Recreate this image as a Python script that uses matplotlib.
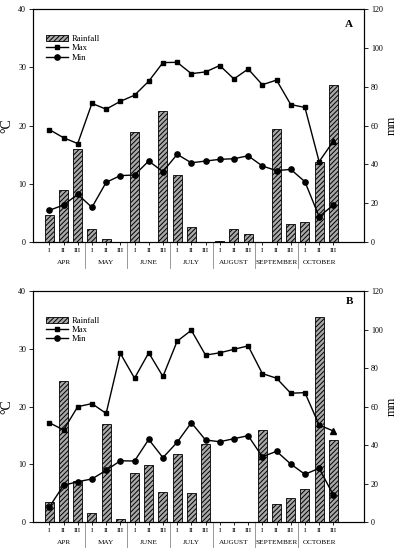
import matplotlib
matplotlib.use("Agg")
import matplotlib.pyplot as plt
import matplotlib.transforms as mtransforms
from matplotlib.patches import Patch
from matplotlib.lines import Line2D
import numpy as np

plt.rcParams['font.family'] = ['Liberation Serif', 'DejaVu Serif']
plt.rcParams['hatch.linewidth'] = 0.7

months = ["APR", "MAY", "JUNE", "JULY", "AUGUST", "SEPTEMBER", "OCTOBER"]
decades = ["I", "II", "III"]

rain_A = [13.7, 26.6, 47.9, 6.7, 1.4, 0, 56.8, 0, 67.6, 34.4, 7.9, 0,
          0.3, 6.9, 4.0, 0, 58.2, 9.3, 10.3, 41.2, 80.7]
max_A = [19.3, 17.9, 16.9, 23.8, 22.8, 24.15, 25.2, 27.6, 30.8, 30.85, 28.9, 29.2,
         30.3, 28.0, 29.7, 27.0, 27.8, 23.6, 23.1, 13.8, 17.3]
min_A = [5.44, 6.35, 8.18, 5.95, 10.24, 11.4, 11.5, 13.9, 12.07, 15.05, 13.6, 13.9,
         14.19, 14.3, 14.8, 13.05, 12.25, 12.47, 10.35, 4.35, 6.35]

rain_B = [10.2, 73.4, 21.3, 4.5, 50.8, 1.6, 25.3, 29.4, 15.4, 35.5, 14.9, 40.5,
          0, 0, 0, 47.6, 9.2, 12.3, 17.0, 106.5, 42.4]
max_B = [17.2, 15.93, 19.97, 20.5, 18.8, 29.2, 24.9, 29.3, 25.2, 31.3, 33.2, 28.9,
         29.3, 29.9, 30.5, 25.7, 24.9, 22.3, 22.4, 16.8, 15.76]
min_B = [2.6, 6.35, 6.98, 7.45, 8.95, 10.6, 10.56, 14.3, 11.14, 13.8, 17.2, 14.2,
         13.9, 14.43, 14.95, 11.3, 12.24, 10.04, 8.26, 9.3, 4.68]

panels = [("A", rain_A, max_A, min_A), ("B", rain_B, max_B, min_B)]

fig = plt.figure(figsize=(3.99, 5.50), dpi=100)
rects = [[0.0827, 0.560, 0.8296, 0.4236], [0.0827, 0.0509, 0.8296, 0.4200]]

x = np.arange(len(months) * len(decades))
xlabels = decades * len(months)
fs = 5.8

for (letter, rain, tmax, tmin), rect in zip(panels, rects):
    ax = fig.add_axes(rect)
    ax2 = ax.twinx()
    ax.set_zorder(ax2.get_zorder() + 1)
    ax.patch.set_visible(False)

    ax2.bar(x, rain, width=0.63, facecolor='#a8a8a8', edgecolor='black',
            linewidth=0.6, hatch='///////')
    ax2.set_ylim(0, 120)
    ax2.set_yticks(np.arange(0, 121, 20))
    ax2.tick_params(axis='y', labelsize=fs, length=3, width=0.6, pad=2)
    ax2.set_ylabel("mm", fontsize=9, rotation=90)
    ax2.yaxis.set_label_coords(1.066, 0.5)

    ax.plot(x[:-1], tmax[:-1], color='black', lw=1.0, marker='s', ms=3.5)
    ax.plot(x[-2:], tmax[-2:], color='black', lw=1.0)
    ax.plot(x[-1:], tmax[-1:], color='black', lw=0, marker='^', ms=4)
    ax.plot(x, tmin, color='black', lw=1.0, marker='o', ms=3.8)

    ax.set_ylim(0, 40)
    ax.set_yticks([0, 10, 20, 30, 40])
    ax.set_xlim(-1.15, 22.16)
    ax.set_xticks(x)
    ax.set_xticklabels(xlabels, fontsize=5.3)
    ax.tick_params(axis='x', length=2.5, width=0.6, pad=2)
    ax.tick_params(axis='y', labelsize=fs, length=3, width=0.6, pad=2)
    ax.set_ylabel("°C", fontsize=10)
    ax.yaxis.set_label_coords(-0.058, 0.5)
    for a in (ax, ax2):
        for s in a.spines.values():
            s.set_linewidth(0.8)

    trans = mtransforms.blended_transform_factory(ax.transData, ax.transAxes)
    for k in range(1, len(months)):
        sep = 3 * k - 0.5
        ax.plot([sep, sep], [0, -0.11], transform=trans, color='#888888',
                lw=0.6, clip_on=False)
    for k, m in enumerate(months):
        ax.text(3 * k + 1, -0.088, m, transform=trans, ha='center', va='center',
                fontsize=5.2)

    ax.text(0.955, 0.935 if letter == "A" else 0.955, letter, transform=ax.transAxes,
            ha='center', va='center', fontsize=8, fontweight='bold')

    handles = [Patch(facecolor='#a8a8a8', edgecolor='black', hatch='///////', lw=0.6),
               Line2D([], [], color='black', lw=1.0, marker='s', ms=3.5),
               Line2D([], [], color='black', lw=1.0, marker='o', ms=3.8)]
    ax.legend(handles, ["Rainfall", "Max", "Min"], loc='upper left',
              bbox_to_anchor=(0.02, 0.915), frameon=False, fontsize=6.2,
              handlelength=2.6, handleheight=0.7, labelspacing=0.15,
              borderpad=0.2, handletextpad=0.4)

fig.savefig("out.png", dpi=100)
